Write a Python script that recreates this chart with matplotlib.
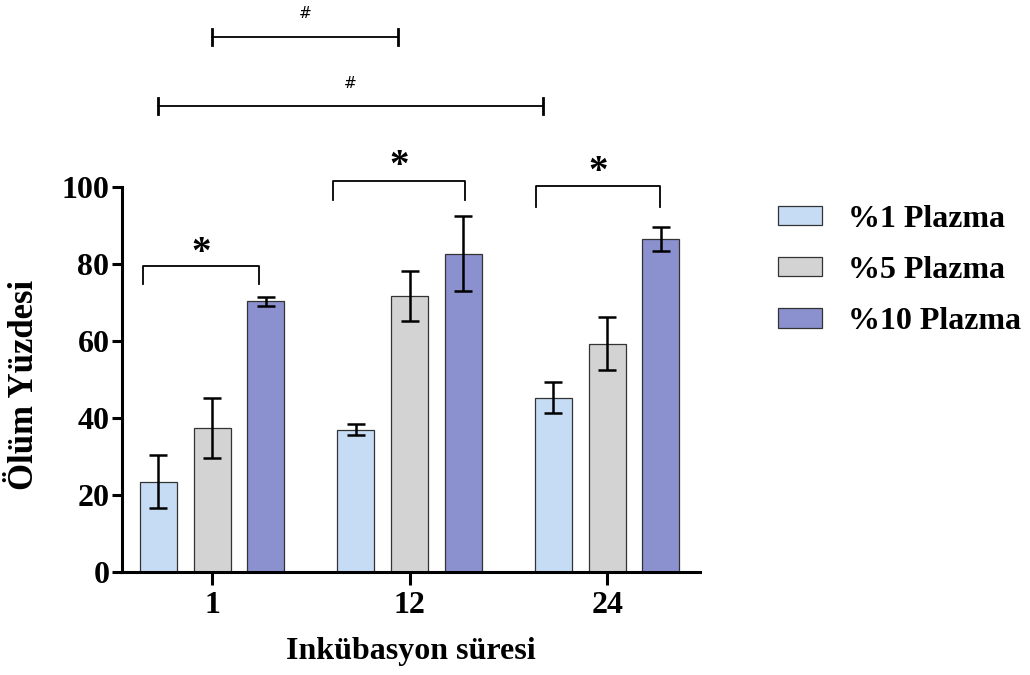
import matplotlib
matplotlib.use("Agg")
import matplotlib.pyplot as plt
import numpy as np

categories = ["1", "12", "24"]
series = ["%1 Plazma", "%5 Plazma", "%10 Plazma"]
values_1 = [23.5, 37.0, 45.3]
values_5 = [37.3, 71.7, 59.3]
values_10 = [70.3, 82.7, 86.5]
err_1 = [6.8, 1.5, 4.0]
err_5 = [7.8, 6.5, 6.8]
err_10 = [1.2, 9.8, 3.0]
colors = ["#c6dcf5", "#d3d3d3", "#8b91ce"]

plt.rcParams['font.family'] = ['Liberation Serif', 'DejaVu Serif']
plt.rcParams['font.weight'] = 'bold'

fig = plt.figure(figsize=(10.30, 6.75), dpi=100)
ax = fig.add_axes([0.1184, 0.1526, 0.5612, 0.5704])

x = np.arange(len(categories))
width = 0.187
offset = 0.272
allv = [values_1, values_5, values_10]
alle = [err_1, err_5, err_10]
for i, (v, e, c, lab) in enumerate(zip(allv, alle, colors, series)):
    ax.bar(x + (i - 1) * offset, v, width, color=c, edgecolor="#333333",
           linewidth=0.9, label=lab, zorder=2)
    ax.errorbar(x + (i - 1) * offset, v, yerr=e, fmt="none", ecolor="black",
                elinewidth=1.8, capsize=6.5, capthick=1.8, zorder=3)

ax.set_xlim(-0.456, 2.47)
ax.set_ylim(0, 100)
ax.set_yticks([0, 20, 40, 60, 80, 100])
ax.set_xticks(x)
ax.set_xticklabels(categories)
for s in ["top", "right"]:
    ax.spines[s].set_visible(False)
for s in ["left", "bottom"]:
    ax.spines[s].set_linewidth(2.2)
ax.tick_params(axis="y", direction="out", length=7, width=2.2, labelsize=23, pad=2)
ax.tick_params(axis="x", direction="out", length=9, width=2.2, labelsize=23, pad=5)
for lbl in ax.get_xticklabels() + ax.get_yticklabels():
    lbl.set_fontweight("bold")
ax.set_ylabel("Ölüm Yüzdesi", fontsize=25, fontweight="bold", labelpad=6)
ax.yaxis.set_label_coords(-0.14, 0.485)
ax.set_xlabel("Inkübasyon süresi", fontsize=23, fontweight="bold", labelpad=12)

def bracket(x1, x2, y, drop, text, ty, fs=28):
    ax.plot([x1, x1, x2, x2], [y - drop, y, y, y - drop], color="black", lw=1.3,
            clip_on=False, zorder=4)
    ax.text((x1 + x2) / 2, ty, text, ha="center", va="center", fontsize=fs,
            fontweight="bold", clip_on=False)

# within-group brackets
bracket(-0.35, 0.24, 79.5, 4.6, "*", 82.8)
bracket(0.61, 1.28, 101.5, 5.0, "*", 105.2)
bracket(1.64, 2.27, 100.2, 5.5, "*", 103.7)

# top brackets (#)
def hbracket(x1, x2, y, ty):
    ax.plot([x1, x2], [y, y], color="black", lw=1.3, clip_on=False)
    ax.plot([x1, x1], [y - 2, y + 2], color="black", lw=2.0, clip_on=False)
    ax.plot([x2, x2], [y - 2, y + 2], color="black", lw=2.0, clip_on=False)
    ax.text((x1 + x2) / 2, ty, "#", ha="center", va="center", fontsize=11,
            fontweight="normal", family=["DejaVu Sans"], clip_on=False)

hbracket(0.0, 0.94, 139.0, 145.0)
hbracket(-0.274, 1.675, 121.0, 126.8)

leg = fig.legend(loc="upper left", bbox_to_anchor=(0.755, 0.697), frameon=False,
                 fontsize=23, handlelength=1.4, handleheight=0.55,
                 labelspacing=0.7, handletextpad=0.8, borderpad=0,
                 borderaxespad=0)
for t in leg.get_texts():
    t.set_fontweight("bold")

fig.savefig("out.png", dpi=100)
